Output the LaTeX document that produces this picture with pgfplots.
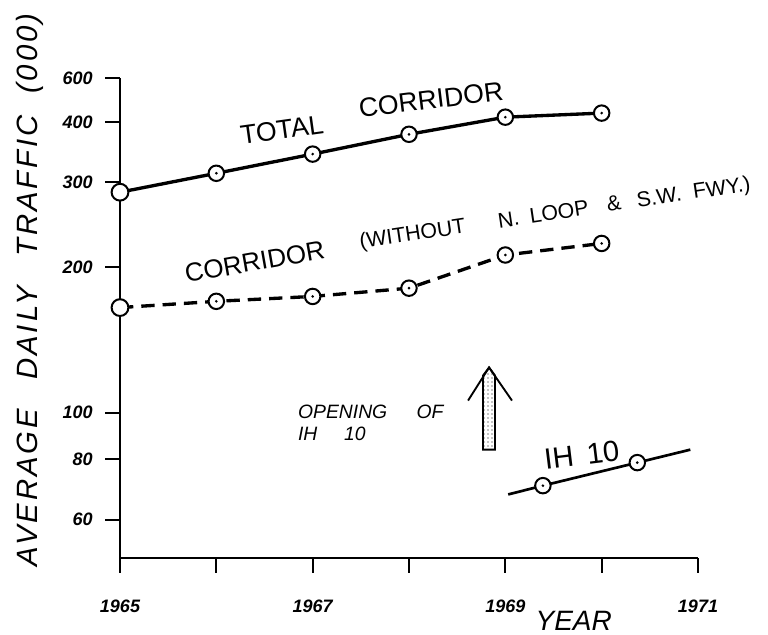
\documentclass[border=0pt]{standalone}
\usepackage{pgfplots}
\pgfplotsset{compat=1.18}
\usepackage{fontspec}
\setmainfont{Liberation Sans}
\usetikzlibrary{patterns}

\pgfdeclareplotmark{dotcirc}{%
  \pgfpathcircle{\pgfpointorigin}{\pgfplotmarksize}%
  \pgfusepathqfillstroke
  \pgfscope
  \pgfsetfillcolor{black}%
  \pgfpathcircle{\pgfpointorigin}{1.1pt}%
  \pgfusepathqfill
  \endpgfscope}

\pgfplotstableread{
x y
1965 286
1966 313
1967 343
1968 377
1969 409
1970 417
}\total
\pgfplotstableread{
x y
1965 165
1966 170
1967 174
1968 181
1969 212
1970 224
}\corridor
\pgfplotstableread{
x y
1969.03 67.7
1969.39 70.6
1970.37 78.8
1970.92 83.8
}\ihten

\begin{document}
\begin{tikzpicture}
\begin{axis}[
  scale only axis, width=433.5pt, height=360pt,
  xmin=1965, xmax=1971, ymode=log, ymin=50, ymax=493,
  axis x line=bottom, axis y line=left,
  axis line style={-, line width=2pt},
  xtick={1965,1966,1967,1968,1969,1970,1971},
  xticklabels={1965,,1967,,1969,,1971},
  ytick={60,80,100,200,300,400,493},
  yticklabels={60,80,100,200,300,400,600},
  yminorticks=false,
  tick align=outside, major tick length=11pt,
  tick style={line width=1.5pt, black},
  ticklabel style={font=\fontsize{13.5}{13.5}\selectfont\bfseries\itshape},
  xticklabel style={yshift=-17pt},
  yticklabel style={xshift=-6pt},
  xlabel={YEAR},
  xlabel style={at={(rel axis cs:0.785,-0.130)}, anchor=center,
    font=\fontsize{21}{21}\selectfont\itshape},
  ylabel={AVERAGE\hspace{22pt}DAILY\hspace{22pt}TRAFFIC\hspace{16pt}(000)},
  ylabel style={at={(rel axis cs:-0.156,0.558)}, anchor=center,
    font=\fontsize{22}{22}\selectfont\itshape\addfontfeature{LetterSpace=10}},
  clip=false,
]
\addplot[line width=2.5pt, mark=dotcirc, mark size=5.8pt,
  mark options={solid, fill=white, line width=1.5pt},
  mark indices={2,3,4,5,6}] table[x=x,y=y] {\total};
\addplot[line width=2.5pt, dash pattern=on 10pt off 6pt, mark=dotcirc, mark size=5.8pt,
  mark options={solid, fill=white, line width=1.5pt},
  mark indices={2,3,4,5,6}] table[x=x,y=y] {\corridor};
\addplot[only marks, mark=*, mark size=6.3pt,
  mark options={fill=white, draw=black, line width=1.5pt}]
  coordinates {(1965,286) (1965,165)};
\addplot[line width=2pt, mark=dotcirc, mark size=5.8pt,
  mark options={solid, fill=white, line width=1.5pt},
  mark indices={2,3}] table[x=x,y=y] {\ihten};

% arrow: opening of IH 10
\draw[line width=1.4pt, pattern=dots]
  (axis cs:1968.768,83.8) -- (axis cs:1968.768,119.3) -- (axis cs:1968.831,124.0)
  -- (axis cs:1968.893,119.3) -- (axis cs:1968.893,83.8) -- cycle;
\draw[line width=1.4pt]
  (axis cs:1968.613,105.9) -- (axis cs:1968.831,124.0) -- (axis cs:1969.069,105.9);

\node[rotate=8, font=\fontsize{20}{20}\selectfont] at (rel axis cs:0.280,0.892)
  {TOTAL};
\node[rotate=7, font=\fontsize{20}{20}\selectfont] at (rel axis cs:0.538,0.955)
  {CORRIDOR};
\node[rotate=10, font=\fontsize{19.5}{19.5}\selectfont] at (rel axis cs:0.233,0.617)
  {CORRIDOR};
\node[rotate=8.5, anchor=west, font=\fontsize{16}{16}\selectfont] at (rel axis cs:0.407,0.654)
  {(WITHOUT\hspace{25pt}N.\hspace{8pt}LOOP\hspace{14pt}\&\hspace{12pt}S.W.\hspace{9pt}FWY.)};
\node[anchor=west, font=\fontsize{14.5}{14.5}\selectfont\itshape] at (rel axis cs:0.300,0.304)
  {OPENING\hspace{22pt}OF};
\node[anchor=west, font=\fontsize{14.5}{14.5}\selectfont\itshape] at (rel axis cs:0.300,0.258)
  {IH\hspace{20pt}10};
\node[rotate=7, font=\fontsize{22}{22}\selectfont] at (rel axis cs:0.799,0.215)
  {IH\hspace{10pt}10};
\end{axis}
\pgfresetboundingbox
\useasboundingbox ([shift={(-90pt,-57pt)}]current axis.south west)
  rectangle ([shift={(52.5pt,58.5pt)}]current axis.north east);
\end{tikzpicture}
\end{document}
